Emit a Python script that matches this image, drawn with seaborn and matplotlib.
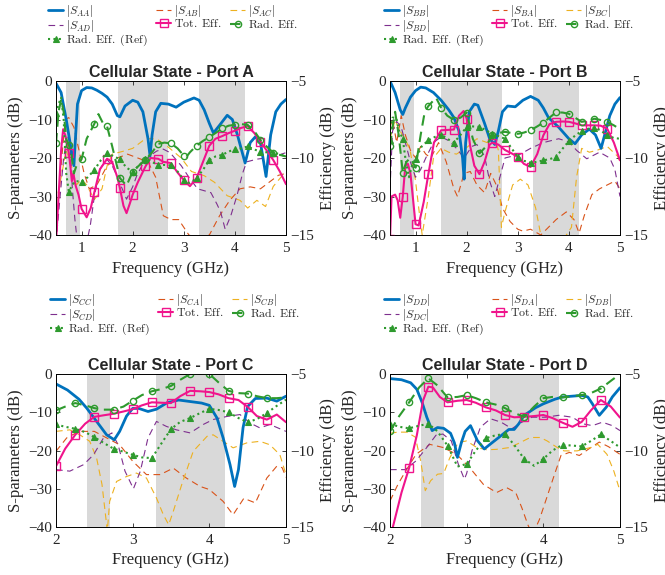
import numpy as np
import matplotlib
matplotlib.use("Agg")
import matplotlib.pyplot as plt
import seaborn as sns

# ---------------- Port A (0.5 - 5 GHz) ----------------
a_bands = [(0.698, 0.96), (1.71, 2.69), (3.3, 4.2)]
a_saa_f = [0.5, 0.6, 0.7, 0.8, 0.85, 0.88, 0.92, 1.0, 1.1, 1.2, 1.3, 1.4, 1.5, 1.6, 1.7, 1.75, 1.85, 2.0, 2.1, 2.2,
           2.3, 2.34, 2.38, 2.45, 2.55, 2.7, 2.85, 3.0, 3.2, 3.3, 3.4, 3.5, 3.58, 3.7, 3.85, 3.95, 4.05, 4.2, 4.3, 4.4,
           4.5, 4.61, 4.7, 4.8, 4.9, 5.0]
a_saa_db = [-0.6, -3, -10, -18, -22, -15, -6, -2.5, -1.7, -1.8, -2.4, -3.2, -4.2, -6, -9, -9.3, -6.5, -5, -5.5, -8,
            -15, -19.5, -14, -8, -5.8, -6, -6.8, -5.5, -4.4, -5, -7.5, -11, -13.5, -11.5, -8.9, -10, -14, -21.3, -16,
            -14.5, -16, -24.8, -14, -8, -6, -4.8]
a_sab_f = [0.5, 0.6, 0.68, 0.75, 0.85, 0.95, 1.05, 1.15, 1.3, 1.5, 1.7, 1.9, 2.1, 2.3, 2.45, 2.6, 2.75, 2.9, 3.0, 3.1,
           3.3, 3.5, 3.7, 3.9, 4.1, 4.3, 4.5, 4.7, 4.85, 5.0]
a_sab_db = [-42, -22, -10, -9.5, -12, -18, -24, -28, -27, -22, -20, -19, -20, -21, -25, -35, -36, -36, -38, -40,
            -41, -40, -35, -31, -28, -27.5, -28, -26, -24.5, -24]
a_sac_f = [0.5, 0.6, 0.7, 0.8, 0.9, 1.0, 1.1, 1.25, 1.4, 1.5, 1.6, 1.8, 2.0, 2.2, 2.35, 2.5, 2.7, 2.95, 3.15, 3.4,
           3.6, 3.85, 4.1, 4.25, 4.43, 4.6, 4.75, 4.9, 5.0]
a_sac_db = [-32, -25, -18, -22, -27, -25.5, -27, -30.8, -28, -22, -19, -18.3, -17.5, -15.5, -14.9, -15.3, -17.2, -20,
            -23.5, -24.6, -26.3, -29.8, -31, -33, -31, -32.6, -27.4, -25, -24]
a_sad_f = [0.5, 0.58, 0.65, 0.72, 0.77, 0.82, 0.87, 0.92, 1.1, 1.17, 1.25, 1.36, 1.49, 1.6, 1.69, 1.88, 2.0, 2.08,
           2.2, 2.34, 2.47, 2.6, 2.73, 2.95, 3.1, 3.27, 3.53, 3.65, 3.72, 3.81, 3.92, 4.04, 4.15, 4.23, 4.43, 4.6,
           4.8, 5.0]
a_sad_db = [-42, -30, -20, -14, -16, -28, -36, -42, -42, -37.6, -30, -22.9, -20.3, -22, -24.6, -30.7, -27.5, -24.6,
            -21.5, -19.4, -18.2, -17.7, -18.6, -22, -25, -28, -29, -32, -34, -38.5, -35, -29.8, -24, -21, -20.3, -20,
            -19.5, -18.6]
a_tot_f = [0.5, 0.55, 0.6, 0.64, 0.68, 0.72, 0.75, 0.78, 0.81, 0.84, 0.88, 0.94, 1.0, 1.1, 1.18, 1.25, 1.36, 1.5,
           1.6, 1.7, 1.75, 1.82, 1.88, 1.94, 2.0, 2.1, 2.25, 2.35, 2.5, 2.6, 2.75, 2.88, 3.0, 3.12, 3.25, 3.37, 3.5,
           3.62, 3.75, 3.88, 4.0, 4.12, 4.25, 4.38, 4.5, 4.62, 4.75, 4.88, 5.0]
a_tot_eff = [-15.5, -12.5, -9.5, -8.13, -8.5, -9.25, -9.65, -10.5, -11.5, -11, -11.75, -12.38, -13.3, -13.85, -13.25,
             -12.23, -10.73, -10.05, -10.25, -11.25, -11.95, -13.1, -13.58, -13, -12.38, -11.58, -10.55, -10, -10.05,
             -10.25, -10.33, -10.95, -11.43, -11.83, -11.3, -10.3, -9.2, -8.75, -8.58, -8.38, -8.23, -8.05, -7.93,
             -8.38, -8.93, -9.5, -10.13, -10.88, -11.7]
a_rad_f = [0.5, 0.55, 0.6, 0.65, 0.7, 0.75, 0.8, 0.85, 0.9, 1.0, 1.1, 1.25, 1.33, 1.42, 1.5, 1.6, 1.75, 1.88, 2.0,
           2.12, 2.25, 2.38, 2.5, 2.62, 2.75, 2.88, 3.0, 3.05, 3.12, 3.25, 3.38, 3.5, 3.62, 3.75, 3.88, 4.0, 4.12,
           4.25, 4.38, 4.5, 4.62, 4.75, 4.88, 5.0]
a_rad_eff = [-9.05, -7, -6.2, -7, -8.75, -9.15, -9.75, -11, -10.5, -10.08, -8.75, -7.78, -7.15, -7.75, -7.95, -9.25,
             -11.3, -11.8, -10.88, -10.5, -10.13, -9.63, -9.08, -9, -9.05, -9.38, -9.85, -9.93, -9.63, -9.2, -8.88,
             -8.65, -8.38, -8.08, -7.9, -7.85, -7.8, -7.85, -8.25, -8.83, -9.25, -9.65, -9.8, -9.9]
a_ref_f = [0.5, 0.55, 0.6, 0.65, 0.7, 0.75, 0.8, 0.87, 1.0, 1.12, 1.25, 1.38, 1.5, 1.62, 1.75, 1.88, 2.0, 2.12, 2.25,
           2.38, 2.5, 2.62, 2.75, 2.88, 3.0, 3.12, 3.25, 3.38, 3.5, 3.62, 3.75, 3.88, 4.0, 4.12, 4.25, 4.38, 4.5,
           4.62, 4.75, 4.88, 5.0]
a_ref_eff = [-7.1, -6.5, -6.08, -7.5, -11, -12.18, -11.88, -11.5, -11.53, -11.25, -10.78, -10.13, -9.65, -9.88,
             -10.08, -10.63, -10.88, -10.5, -10.05, -10.25, -10.48, -10.45, -10.48, -10.88, -11.43, -11.63, -11.3,
             -10.75, -10.13, -9.9, -9.8, -9.58, -9.43, -9.38, -9.25, -9.45, -9.58, -9.63, -9.65, -9.75, -9.9]

# ---------------- Port B (0.5 - 5 GHz) ----------------
b_bands = [(0.698, 0.96), (1.5, 2.69), (3.3, 4.2)]
b_sbb_f = [0.5, 0.6, 0.7, 0.75, 0.8, 0.9, 1.0, 1.1, 1.2, 1.35, 1.5, 1.65, 1.75, 1.85, 1.92, 1.95, 1.98, 2.05, 2.15,
           2.22, 2.35, 2.45, 2.55, 2.62, 2.7, 2.8, 2.95, 3.1, 3.25, 3.4, 3.5, 3.6, 3.8, 4.0, 4.12, 4.25, 4.4, 4.52,
           4.63, 4.7, 4.8, 4.9, 5.0]
b_sbb_db = [0, -3, -7.5, -8.7, -7, -4.2, -2.5, -1.6, -1.8, -3, -5, -7.5, -9.5, -13, -20, -25.5, -16, -8, -6, -6.3,
            -11, -15, -16.5, -13, -8, -6.5, -6.7, -5, -4, -5, -7, -9.5, -12, -15, -16.3, -14, -12.5, -14, -17.5, -14,
            -9, -6, -4.3]
b_sba_f = [0.5, 0.55, 0.63, 0.72, 0.8, 0.9, 1.0, 1.1, 1.2, 1.3, 1.45, 1.6, 1.75, 1.82, 1.95, 2.07, 2.2, 2.35, 2.47,
           2.58, 2.7, 2.85, 3.0, 3.1, 3.25, 3.45, 3.6, 3.75, 3.95, 4.1, 4.2, 4.3, 4.45, 4.6, 4.75, 4.9, 5.0]
b_sba_db = [-12, -10, -16, -9, -14, -18, -20, -17, -19, -20, -16, -21, -28, -30, -24, -23.5, -27, -29, -24, -27,
            -33, -36.5, -38.5, -39, -38.5, -40, -38, -36, -34, -36, -39.5, -35, -29.5, -28, -27, -26, -28]
b_sbc_f = [0.5, 0.6, 0.67, 0.8, 0.9, 1.0, 1.08, 1.13, 1.25, 1.35, 1.5, 1.65, 1.8, 2.0, 2.2, 2.4, 2.55, 2.62, 2.68,
           2.75, 2.9, 3.05, 3.2, 3.35, 3.45, 3.55, 3.9, 4.05, 4.15, 4.25, 4.4, 4.55, 4.75, 4.95, 5.0]
b_sbc_db = [-15, -10, -12.5, -15, -18.5, -26, -35, -40, -30, -20, -17.5, -18.5, -19, -17.3, -15, -16, -14.5, -18,
            -38, -34, -27, -25.5, -27, -33, -40, -41, -41, -38, -25, -17.5, -18.5, -18, -17, -19.5, -21]
b_sbd_f = [0.5, 0.55, 0.63, 0.72, 0.8, 0.9, 1.0, 1.1, 1.2, 1.35, 1.5, 1.65, 1.8, 1.95, 2.1, 2.2, 2.35, 2.45, 2.55,
           2.65, 2.75, 2.9, 3.05, 3.25, 3.5, 3.8, 4.0, 4.15, 4.35, 4.6, 4.8, 4.9, 5.0]
b_sbd_db = [-28, -13, -10.5, -12, -16, -21, -25, -23, -20, -16, -14.5, -15.5, -17.5, -20, -17, -16.5, -19.5, -26,
            -30, -25, -20, -19.5, -19, -17.5, -16, -15, -15.8, -18, -20.2, -18.5, -20, -23, -30]
b_tot_f = [0.5, 0.53, 0.6, 0.65, 0.7, 0.75, 0.8, 0.85, 0.9, 1.0, 1.06, 1.16, 1.25, 1.36, 1.5, 1.62, 1.75, 1.85, 1.94,
           2.0, 2.07, 2.15, 2.25, 2.35, 2.45, 2.5, 2.62, 2.75, 2.88, 3.0, 3.12, 3.25, 3.38, 3.5, 3.62, 3.75, 3.88,
           4.0, 4.12, 4.25, 4.38, 4.5, 4.62, 4.75, 4.88, 5.0]
b_tot_eff = [-15.25, -12.5, -12.38, -12.75, -13.88, -12.5, -10.5, -10.38, -11, -14.3, -14.38, -12.85, -11.05, -9,
             -8.2, -8.18, -8.15, -7.25, -6.95, -7.45, -9.25, -10.5, -11.05, -10.25, -9.13, -9, -9.13, -9.48, -9.7,
             -9.93, -10.38, -10.58, -9.75, -8.53, -7.8, -7.65, -7.63, -7.65, -7.75, -7.88, -7.88, -7.88, -7.9, -8.1,
             -9, -10.15]
b_rad_f = [0.5, 0.55, 0.6, 0.67, 0.75, 0.82, 0.9, 1.0, 1.1, 1.18, 1.25, 1.4, 1.5, 1.62, 1.75, 1.88, 2.0, 2.12, 2.25,
           2.38, 2.5, 2.62, 2.75, 2.88, 3.0, 3.12, 3.25, 3.38, 3.5, 3.62, 3.75, 3.88, 4.0, 4.12, 4.25, 4.38, 4.5,
           4.62, 4.75, 4.88, 5.0]
b_rad_eff = [-9.23, -8, -7, -8.5, -10.95, -10.25, -10, -10.63, -8.5, -7, -6.63, -6.08, -6.73, -7.25, -7.53, -7.38,
             -7.05, -8.75, -9.7, -9.25, -8.53, -8.38, -8.3, -8.38, -8.43, -8.35, -8.2, -7.95, -7.7, -7.38, -7.03,
             -7.05, -7.13, -7.38, -7.65, -7.58, -7.45, -7.53, -7.65, -7.88, -8.13]
b_ref_f = [0.5, 0.55, 0.62, 0.68, 0.75, 0.8, 0.87, 0.93, 1.0, 1.12, 1.25, 1.38, 1.5, 1.62, 1.75, 1.88, 2.0, 2.12,
           2.25, 2.38, 2.5, 2.62, 2.75, 2.88, 3.0, 3.12, 3.25, 3.38, 3.5, 3.62, 3.75, 3.88, 4.0, 4.12, 4.25, 4.38,
           4.5, 4.62, 4.75, 4.88, 5.0]
b_ref_eff = [-8.8, -7.38, -7.38, -8.25, -8.75, -10, -11.25, -10.5, -10.05, -9.25, -8.85, -8.63, -8.48, -8.75, -9,
             -8.5, -7.98, -7.95, -7.98, -8.2, -8.43, -8.58, -8.75, -9.38, -9.93, -10.18, -10.3, -10.25, -10.15,
             -10.08, -9.93, -9.38, -8.9, -8.55, -8.25, -8.1, -8.03, -8.2, -8.53, -8.7, -8.75]

# ---------------- Port C (2 - 5 GHz) ----------------
c_bands = [(2.4, 2.7), (3.3, 4.2)]
c_scc_f = [2.0, 2.15, 2.3, 2.4, 2.53, 2.66, 2.76, 2.83, 2.92, 3.0, 3.08, 3.2, 3.31, 3.45, 3.6, 3.75, 3.9, 4.0, 4.1,
           4.18, 4.27, 4.33, 4.38, 4.44, 4.5, 4.6, 4.75, 4.88, 5.0]
c_scc_db = [-2.6, -4.2, -6.6, -8.9, -12.4, -15.9, -17.2, -15, -11, -9, -9, -9.8, -9.2, -7.5, -6.8, -7.2, -7.6, -8.2,
            -11.5, -16.7, -23.7, -29.4, -25, -14, -8.5, -6.4, -6.3, -7.1, -5.8]
c_sca_f = [2.0, 2.14, 2.3, 2.5, 2.66, 2.83, 3.0, 3.18, 3.36, 3.53, 3.7, 3.88, 4.0, 4.18, 4.31, 4.45, 4.6, 4.75, 4.88,
           4.95, 5.0]
c_sca_db = [-20.2, -16.7, -15, -15, -16.7, -18.5, -22.8, -26.3, -26.3, -24.6, -27.2, -29.4, -30.2, -33.3, -36.8,
            -32.5, -33.7, -27.2, -24.1, -24.5, -27]
c_scb_f = [2.0, 2.18, 2.31, 2.44, 2.53, 2.6, 2.65, 2.67, 2.7, 2.79, 2.92, 3.05, 3.18, 3.31, 3.4, 3.47, 3.53, 3.64,
           3.79, 3.97, 4.05, 4.18, 4.31, 4.49, 4.66, 4.79, 4.92, 5.0]
c_scb_db = [-15, -14.6, -15.9, -17.6, -22, -28.9, -37.6, -41, -33.3, -28.1, -26.8, -25.9, -27.2, -32.4, -36.8, -39.4,
            -35.9, -28.9, -20.2, -16.3, -15.9, -17.6, -19.3, -18, -17.6, -18.5, -21.1, -26.3]
c_scd_f = [2.0, 2.18, 2.36, 2.49, 2.62, 2.73, 2.81, 2.9, 3.01, 3.1, 3.2, 3.31, 3.44, 3.57, 3.75, 3.92, 4.05, 4.23,
           4.4, 4.53, 4.66, 4.79, 5.0]
c_scd_db = [-25, -25.4, -23.7, -21.1, -16.7, -15.4, -18.5, -25.4, -30, -25.4, -16.7, -12.4, -13.7, -14.6, -15.4,
            -13.2, -11.9, -11.1, -10.6, -12.8, -14.1, -13.2, -15]
c_eff_f = [2.0, 2.12, 2.25, 2.38, 2.5, 2.62, 2.75, 2.88, 3.0, 3.12, 3.25, 3.38, 3.5, 3.62, 3.75, 3.88, 4.0, 4.12,
           4.25, 4.38, 4.5, 4.62, 4.75, 4.88, 5.0]
c_tot_eff = [-11.03, -9.88, -8.98, -8.25, -7.8, -7.7, -7.6, -7.45, -7.3, -7.05, -6.85, -6.88, -6.9, -6.45, -6.1,
             -6.13, -6.18, -6.33, -6.58, -6.7, -7.15, -7.75, -7.98, -7.65, -8.15]
c_rad_eff = [-7.38, -7.13, -6.9, -7.05, -7.23, -7.33, -7.33, -7.13, -6.75, -6.38, -6.13, -5.98, -5.78, -5.38, -5,
             -4.93, -5, -5.55, -6.1, -6.25, -6.28, -6.45, -6.58, -6.58, -6.53]
c_ref_eff = [-8.3, -8.45, -8.58, -8.8, -9.13, -9.5, -9.88, -10.08, -10.28, -10.45, -10.5, -9.5, -8.6, -8.13, -7.88,
             -7.55, -7.28, -7.35, -7.5, -7.88, -8.15, -7.95, -7.55, -7.08, -6.68]

# ---------------- Port D (2 - 5 GHz) ----------------
d_bands = [(2.4, 2.7), (3.3, 4.2)]
d_sdd_f = [2.0, 2.15, 2.27, 2.35, 2.42, 2.48, 2.55, 2.62, 2.7, 2.79, 2.84, 2.88, 2.93, 2.98, 3.05, 3.14, 3.23, 3.31,
           3.45, 3.55, 3.62, 3.68, 3.75, 3.9, 4.0, 4.15, 4.25, 4.5, 4.58, 4.64, 4.73, 4.82, 4.9, 5.0]
d_sdd_db = [-1.2, -1.5, -2.3, -4, -7.5, -11.3, -14.8, -14, -14.2, -15.5, -18, -21.8, -18, -15, -13.5, -17.4, -19.6,
            -18.3, -16.1, -14.5, -14.5, -13, -10.8, -8.8, -7.8, -6.6, -6, -5.6, -6, -7.8, -10.8, -8.7, -6, -3.6]
d_sda_f = [2.0, 2.1, 2.2, 2.34, 2.52, 2.69, 2.87, 3.04, 3.22, 3.39, 3.52, 3.64, 3.72, 3.8, 3.86, 3.95, 4.05, 4.15,
           4.23, 4.34, 4.47, 4.6, 4.73, 4.85, 5.0]
d_sda_db = [-33.2, -29, -25.5, -21, -18.4, -19.2, -21, -24.5, -28.9, -31, -29.7, -31, -35, -39.5, -42, -38, -32, -26,
            -21.3, -20.5, -21.3, -19.5, -17.8, -19, -21]
d_sdb_f = [2.0, 2.1, 2.22, 2.33, 2.4, 2.46, 2.53, 2.62, 2.7, 2.78, 2.89, 3.0, 3.13, 3.26, 3.39, 3.57, 3.7, 3.83,
           3.96, 4.05, 4.18, 4.27, 4.44, 4.62, 4.71, 4.83, 4.92, 5.0]
d_sdb_db = [-15.5, -15.2, -15.2, -16.5, -22.7, -30.5, -27.9, -26.2, -26, -21.9, -17.9, -17.5, -19.2, -19.8, -19.7,
            -19.2, -17.9, -16.6, -16.6, -17.5, -19.2, -20.1, -20.1, -19.2, -18.4, -21, -25.4, -30.6]
d_sdc_f = [2.0, 2.2, 2.34, 2.48, 2.6, 2.69, 2.8, 2.89, 2.97, 3.0, 3.07, 3.18, 3.31, 3.45, 3.59, 3.72, 3.85, 4.03,
           4.2, 4.38, 4.51, 4.64, 4.77, 4.9, 5.0]
d_sdc_db = [-25, -25, -22.7, -19.2, -16, -15.7, -17.5, -23.5, -27.5, -26, -20, -13.9, -11.7, -12.6, -14.3, -12.6,
            -11.3, -11.3, -10.8, -11.3, -13, -13.5, -12.6, -13.5, -14.8]
d_tot_f = [2.0, 2.05, 2.15, 2.25, 2.35, 2.43, 2.5, 2.56, 2.65, 2.75, 2.88, 3.0, 3.12, 3.25, 3.38, 3.5, 3.62, 3.75,
           3.88, 4.0, 4.12, 4.25, 4.38, 4.5, 4.62, 4.75, 4.88, 5.0]
d_tot_eff = [-15.75, -14.75, -12.75, -11.13, -9, -6.75, -5.83, -5.88, -6.5, -6.85, -6.75, -6.7, -6.88, -7.18, -7.38,
             -7.68, -7.83, -7.8, -7.75, -7.68, -7.88, -8.18, -8.45, -8.13, -7.38, -6.7, -7.13, -7.85]
d_eff_f = [2.0, 2.12, 2.25, 2.38, 2.5, 2.62, 2.75, 2.88, 3.0, 3.12, 3.25, 3.38, 3.5, 3.62, 3.75, 3.88, 4.0, 4.12,
           4.25, 4.38, 4.5, 4.62, 4.75, 4.88, 5.0]
d_rad_eff = [-8.75, -7.75, -6.85, -5.88, -5.28, -5.75, -6.53, -6.5, -6.38, -6.58, -6.85, -7, -7.23, -7.55, -7.8,
             -7.13, -6.58, -6.5, -6.53, -6.45, -6.38, -6.25, -5.95, -5.45, -5]
d_ref_eff = [-8.25, -8.45, -8.55, -8.38, -8.25, -8.75, -9.68, -11.05, -10.88, -10, -9.2, -9, -8.93, -9.63, -10.55,
             -11, -10.55, -10, -9.63, -9.68, -9.73, -9.38, -8.95, -9.38, -9.8]

# ---------------- style ----------------
sns.set_theme(style="ticks")
plt.rcParams["font.family"] = ["Liberation Serif", "DejaVu Serif"]
plt.rcParams["mathtext.fontset"] = "cm"
plt.rcParams["axes.edgecolor"] = "black"
plt.rcParams["axes.linewidth"] = 0.6

BLUE, ORANGE, YELLOW, PURPLE = "#0072BD", "#D95319", "#EDB120", "#7E2F8E"
PINK, GREEN, SHADE = "#F0148C", "#2E9A2E", "#D9D9D9"
DASH = (0, (6, 4))


def mark_idx(f):
    f = np.asarray(f)
    return list(np.where(np.isclose(f * 4, np.round(f * 4)) & (f < 4.99))[0])


def draw(ax, f, v, label, **kw):
    sns.lineplot(x=f, y=v, ax=ax, sort=False, estimator=None, legend=False, **kw)
    ln = ax.lines[-1]
    ln.set_label(label)
    return ln


fig = plt.figure(figsize=(6.65, 5.75), dpi=100)


def panel(rect, port, others, xlim, xticks, bands, s_self, s_others, tot, rad, ref, leg_xy):
    ax = fig.add_axes(rect)
    for lo, hi in bands:
        ax.axvspan(lo, hi, color=SHADE, lw=0, zorder=0)
    p = port
    h_o = []
    for (f, v), o, c in zip(s_others, others, [ORANGE, YELLOW, PURPLE]):
        h_o.append(draw(ax, f, v, r"$|S_{%s%s}|$" % (p, o), color=c, linewidth=0.8, linestyle=DASH))
    h_self = draw(ax, s_self[0], s_self[1], r"$|S_{%s%s}|$" % (p, p), color=BLUE, linewidth=2.0)
    ax.set_xlim(*xlim)
    ax.set_ylim(-40, 0)
    ax.set_xticks(xticks)
    ax.set_yticks([-40, -30, -20, -10, 0])
    ax.tick_params(direction="in", length=3, width=0.6, labelsize=11, top=True, right=False, pad=3)
    ax.tick_params(axis="x", pad=5)
    ax.set_xlabel("Frequency (GHz)", fontsize=12, labelpad=4)
    ax.set_ylabel("S-parameters (dB)", fontsize=12, labelpad=3)
    ax.set_title("Cellular State - Port %s" % p, fontsize=11.5, fontweight="bold",
                 family="Liberation Sans", pad=3)

    ax2 = ax.twinx()
    h_tot = draw(ax2, tot[0], tot[1], r"$\mathrm{Tot.\ Eff.}$", color=PINK, linewidth=1.5,
                 marker="s", markersize=5.5, markerfacecolor="none", markeredgecolor=PINK,
                 markeredgewidth=1.0, markevery=mark_idx(tot[0]))
    h_rad = draw(ax2, rad[0], rad[1], r"$\mathrm{Rad.\ Eff.}$", color=GREEN, linewidth=1.5,
                 linestyle=(0, (5, 3)), marker="o", markersize=4.5, markerfacecolor="none",
                 markeredgecolor=GREEN, markeredgewidth=1.0, markevery=mark_idx(rad[0]))
    h_ref = draw(ax2, ref[0], ref[1], r"$\mathrm{Rad.\ Eff.\ (Ref)}$", color=GREEN, linewidth=1.5,
                 linestyle=(0, (1, 1.6)), marker="^", markersize=5, markerfacecolor=GREEN,
                 markeredgecolor=GREEN, markeredgewidth=0.8, markevery=mark_idx(ref[0]))
    ax2.set_ylim(-15, -5)
    ax2.set_yticks([-15, -10, -5])
    ax2.tick_params(direction="in", length=3, width=0.6, labelsize=11, pad=3)
    ax2.set_ylabel("Efficiency (dB)", fontsize=12, labelpad=4)

    handles = [h_self, h_o[2], h_ref, h_o[0], h_tot, h_o[1], h_rad]
    fig.legend(handles=handles, labels=[h.get_label() for h in handles], loc="upper left",
               bbox_to_anchor=(leg_xy[0] / 665, 1 - leg_xy[1] / 575), ncol=3, frameon=False,
               fontsize=8.5, handlelength=1.3, handletextpad=0.25, columnspacing=0.7,
               labelspacing=-0.1, borderpad=0, borderaxespad=0, numpoints=1)


panel([56 / 665, 1 - 235 / 575, 230 / 665, 154 / 575], "A", ["B", "C", "D"], (0.5, 5), [1, 2, 3, 4, 5],
      a_bands, (a_saa_f, a_saa_db), [(a_sab_f, a_sab_db), (a_sac_f, a_sac_db), (a_sad_f, a_sad_db)],
      (a_tot_f, a_tot_eff), (a_rad_f, a_rad_eff), (a_ref_f, a_ref_eff), (48, 3))
panel([390 / 665, 1 - 235 / 575, 230 / 665, 154 / 575], "B", ["A", "C", "D"], (0.5, 5), [1, 2, 3, 4, 5],
      b_bands, (b_sbb_f, b_sbb_db), [(b_sba_f, b_sba_db), (b_sbc_f, b_sbc_db), (b_sbd_f, b_sbd_db)],
      (b_tot_f, b_tot_eff), (b_rad_f, b_rad_eff), (b_ref_f, b_ref_eff), (384, 3))
panel([56 / 665, 1 - 527 / 575, 230 / 665, 153 / 575], "C", ["A", "B", "D"], (2, 5), [2, 3, 4, 5],
      c_bands, (c_scc_f, c_scc_db), [(c_sca_f, c_sca_db), (c_scb_f, c_scb_db), (c_scd_f, c_scd_db)],
      (c_eff_f, c_tot_eff), (c_eff_f, c_rad_eff), (c_eff_f, c_ref_eff), (50, 292))
panel([390 / 665, 1 - 527 / 575, 230 / 665, 153 / 575], "D", ["A", "B", "C"], (2, 5), [2, 3, 4, 5],
      d_bands, (d_sdd_f, d_sdd_db), [(d_sda_f, d_sda_db), (d_sdb_f, d_sdb_db), (d_sdc_f, d_sdc_db)],
      (d_tot_f, d_tot_eff), (d_eff_f, d_rad_eff), (d_eff_f, d_ref_eff), (384, 292))

fig.savefig("out.png", dpi=100)
